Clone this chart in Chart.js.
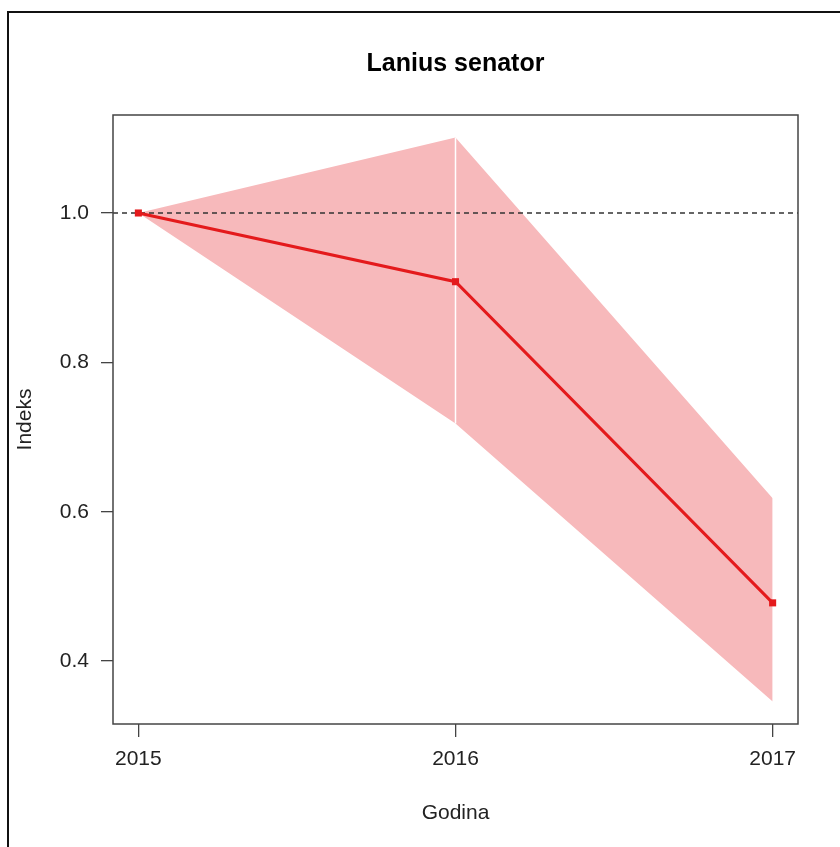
<!DOCTYPE html>
<html>
<head>
<meta charset="utf-8">
<title>Lanius senator</title>
<script src="https://cdn.jsdelivr.net/npm/chart.js@4.4.1/dist/chart.umd.min.js"></script>
<style>
  html, body { margin: 0; padding: 0; background: #fff; }
  canvas { display: block; }
</style>
</head>
<body>
<canvas id="indexChart" width="840" height="847"></canvas>
<script>
// data
const years = [2015, 2016, 2017];
const indexValues = [1.0, 0.908, 0.478];
const upperValues = [1.0, 1.101, 0.618];
const lowerValues = [1.0, 0.718, 0.346];
const xTickValues = [2015, 2016, 2017];
const yTickValues = [0.4, 0.6, 0.8, 1.0];
const refLevel = 1.0;

const chartTitle = 'Lanius senator';
const xLabel = 'Godina';
const yLabel = 'Indeks';

const FONT = '"Liberation Sans", Arial, Helvetica, sans-serif';
const lineRed = '#e41a1c';
const bandPink = 'rgb(247, 185, 187)';

// R style axis padding (4% each side)
function padRange(vals) {
    let lo = Math.min(...vals), hi = Math.max(...vals);
    let pad = (hi - lo) * 0.04;
    return [lo - pad, hi + pad];
}
const xRange = padRange(years);
const yRange = padRange(upperValues.concat(lowerValues, indexValues));

const toPoints = (xs, ys) => xs.map((x, i) => ({ x: x, y: ys[i] }));

// frame, plot box, dashed reference line and title
const rDecor = {
    id: 'rDecor',
    beforeDraw(chart) {
        const ctx = chart.ctx;
        ctx.save();
        ctx.fillStyle = '#fff';
        ctx.fillRect(0, 0, chart.width, chart.height);
        ctx.fillStyle = '#111';
        ctx.fillRect(7, 11, 2, chart.height - 11);
        ctx.fillRect(7, 11, chart.width - 7, 2);
        ctx.restore();
    },
    beforeDatasetsDraw(chart) {
        const ctx = chart.ctx;
        const area = chart.chartArea;
        const y = chart.scales.y.getPixelForValue(refLevel);
        ctx.save();
        ctx.strokeStyle = '#333';
        ctx.lineWidth = 1.3;
        ctx.setLineDash([5, 4]);
        ctx.beginPath();
        ctx.moveTo(area.left, y);
        ctx.lineTo(area.right, y);
        ctx.stroke();
        ctx.restore();
    },
    afterDraw(chart) {
        const ctx = chart.ctx;
        const area = chart.chartArea;
        ctx.save();
        ctx.strokeStyle = '#444';
        ctx.lineWidth = 1.5;
        ctx.strokeRect(area.left, area.top, area.right - area.left, area.bottom - area.top);
        ctx.fillStyle = '#000';
        ctx.font = 'bold 25px ' + FONT;
        ctx.textAlign = 'center';
        ctx.textBaseline = 'alphabetic';
        ctx.fillText(chartTitle, (area.left + area.right) / 2, 71);
        ctx.restore();
    }
};

new Chart('indexChart', {
    type: 'line',
    data: {
        datasets: [
            {
                label: 'lower',
                data: toPoints(years, lowerValues),
                borderWidth: 0,
                pointRadius: 0,
                fill: false,
                order: 3
            },
            {
                label: 'upper',
                data: toPoints(years, upperValues),
                borderWidth: 0,
                pointRadius: 0,
                backgroundColor: bandPink,
                fill: '-1',
                order: 3
            },
            {
                // the thin white seam in the band at the middle year
                label: 'seam',
                data: [{ x: years[1], y: upperValues[1] }, { x: years[1], y: lowerValues[1] }],
                borderColor: '#fff',
                borderWidth: 1.5,
                pointRadius: 0,
                fill: false,
                order: 2
            },
            {
                label: 'Indeks',
                data: toPoints(years, indexValues),
                borderColor: lineRed,
                backgroundColor: lineRed,
                borderWidth: 3,
                pointStyle: 'rect',
                pointRadius: 5,
                pointBorderWidth: 0,
                fill: false,
                order: 1
            }
        ]
    },
    options: {
        responsive: false,
        animation: false,
        events: [],
        layout: { padding: { left: 0, top: 115, right: 42, bottom: 0 } },
        plugins: {
            legend: { display: false },
            tooltip: { enabled: false },
            filler: { drawTime: 'beforeDatasetsDraw' }
        },
        scales: {
            x: {
                type: 'linear',
                min: xRange[0],
                max: xRange[1],
                afterFit: s => { s.height = 123; },
                afterBuildTicks: s => { s.ticks = xTickValues.map(v => ({ value: v })); },
                grid: { drawOnChartArea: false, drawTicks: true, tickLength: 13, color: '#444', lineWidth: 1.3 },
                border: { display: false },
                ticks: {
                    padding: 10,
                    color: '#222',
                    font: { family: FONT, size: 21 },
                    callback: v => String(v)
                },
                title: {
                    display: true,
                    text: xLabel,
                    color: '#222',
                    font: { family: FONT, size: 21 },
                    padding: { top: 0, bottom: 21 }
                }
            },
            y: {
                min: yRange[0],
                max: yRange[1],
                afterFit: s => { s.width = 113; },
                afterBuildTicks: s => { s.ticks = yTickValues.map(v => ({ value: v })); },
                grid: { drawOnChartArea: false, drawTicks: true, tickLength: 12, color: '#444', lineWidth: 1.3 },
                border: { display: false },
                ticks: {
                    padding: 12,
                    color: '#222',
                    font: { family: FONT, size: 21 },
                    callback: v => v.toFixed(1)
                },
                title: {
                    display: true,
                    text: yLabel,
                    color: '#222',
                    font: { family: FONT, size: 21 },
                    padding: { top: 13, bottom: 0 }
                }
            }
        }
    },
    plugins: [rDecor]
});
</script>
</body>
</html>
